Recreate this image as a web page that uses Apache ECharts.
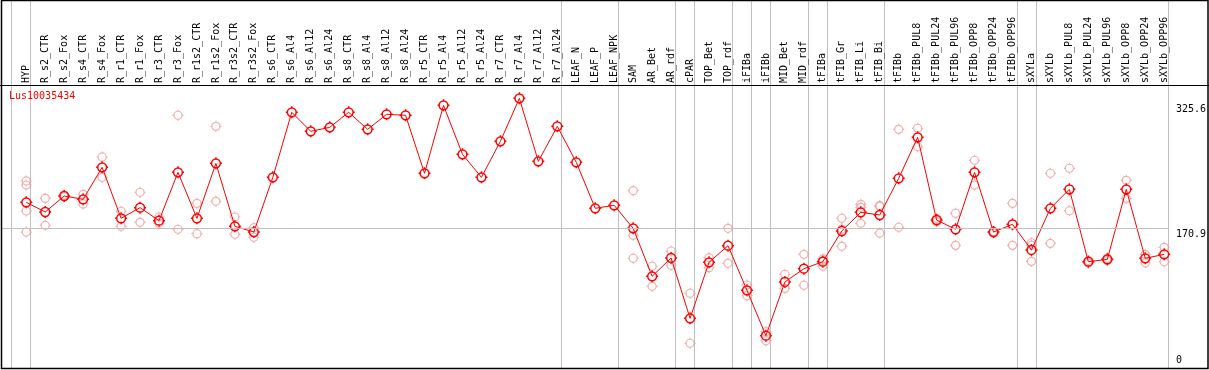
<!DOCTYPE html>
<html><head><meta charset="utf-8">
<script src="https://cdn.jsdelivr.net/npm/echarts@6/dist/echarts.min.js"></script>
<style>html,body{margin:0;padding:0;background:#fff}#c{width:1209px;height:370px}</style>
</head><body><div id="c"></div><script>
const geneName = 'Lus10035434';
const categories = ['HYP','R_s2_CTR','R_s2_Fox','R_s4_CTR','R_s4_Fox','R_r1_CTR','R_r1_Fox','R_r3_CTR','R_r3_Fox','R_r1s2_CTR','R_r1s2_Fox','R_r3s2_CTR','R_r3s2_Fox','R_s6_CTR','R_s6_Al4','R_s6_Al12','R_s6_Al24','R_s8_CTR','R_s8_Al4','R_s8_Al12','R_s8_Al24','R_r5_CTR','R_r5_Al4','R_r5_Al12','R_r5_Al24','R_r7_CTR','R_r7_Al4','R_r7_Al12','R_r7_Al24','LEAF_N','LEAF_P','LEAF_NPK','SAM','AR_Bet','AR_rdf','cPAR','TOP_Bet','TOP_rdf','iFIBa','iFIBb','MID_Bet','MID_rdf','tFIBa','tFIB_Gr','tFIB_Li','tFIB_Bi','tFIBb','tFIBb_PUL8','tFIBb_PUL24','tFIBb_PUL96','tFIBb_OPP8','tFIBb_OPP24','tFIBb_OPP96','sXYLa','sXYLb','sXYLb_PUL8','sXYLb_PUL24','sXYLb_PUL96','sXYLb_OPP8','sXYLb_OPP24','sXYLb_OPP96'];
const meanValues = [203.1,191.1,210.9,206.8,246.4,183.3,196.5,180.4,240.2,183.3,251.3,173.4,166.3,
  234.0,314.5,290.9,295.9,314.5,293.4,312.0,310.8,239.0,323.1,262.5,234.0,278.6,331.8,253.8,297.1,
  252.6,195.7,199.4,
  170.9,111.5,134.2,59.5,128.8,149.4,94.2,38.0,104.5,120.9,129.6,
  167.6,190.7,187.4,232.8,283.5,181.2,169.7,240.2,166.3,175.9,
  144.1,195.7,219.2,129.6,132.5,219.2,133.8,138.7];
const replicateValues = [
  [229.5,224.5,192.3,166.3],[208.0,174.6],[212,210],[213,201],[259.2,234.0],[192.0,173.4],[215.5,178.3],[184.9,177.1],[310.8,169.7],[201.8,164.3],[297.1,204.3],[184.9,163.5],[171.7,159.8],
  [],[],[],[],[],[],[],[],[],[],[],[],[],[],[],[],
  [],[],[],
  [217.5,162.3,133.8],[123.9,99.1],[142.8,125.1],[90.5,28.6],[134.6,122.2],[170.9,127.6],[100.7,87.5],[42.9,31.8],[114.0,96.6],[138.7,100.4],[133,131,124],
  [183.3,170.0,148.6],[200.6,196.9,177.1],[199,198,165],[293.4,172.2],[294.7,271.9],[183.3,179.1],[189.5,149.8],[255.1,224.5],[167,165],[201.8,149.8],
  [153,150,130],[239.0,152.3],[245.2,192.7],[131,128],[134,131],[230.3,208.0],[138.7,128.3],[147.4,129.6]
];
const groupEndsAfter = [-1,0,28,31,34,35,37,38,39,41,42,45,52,53,60];
const yLabelValues = [0, 170.9, 325.6];
const gridLineValue = 170.9;

const font = '"DejaVu Sans Mono", monospace';
const chart = echarts.init(document.getElementById('c'), null, {renderer: 'canvas'});
const repData = [];
replicateValues.forEach((arr, i) => arr.forEach(v => repData.push([i, v])));
const sym = 'path://M6 0V1.6M6 10.4V12M0 6H1.6M10.4 6H12' +
  'M10.4 6C10.4 8.43 8.43 10.4 6 10.4C3.57 10.4 1.6 8.43 1.6 6C1.6 3.57 3.57 1.6 6 1.6C8.43 1.6 10.4 3.57 10.4 6Z';

chart.setOption({
  animation: false,
  backgroundColor: '#fff',
  title: {text: geneName, left: 9, top: 91, padding: 0,
    textStyle: {color: '#ff0000', fontFamily: font, fontSize: 10, fontWeight: 'normal'}},
  grid: {left: 2, right: 38, top: 85, bottom: 3.6},
  xAxis: {type: 'value', position: 'top', min: -1.279, max: 60.247,
    axisLine: {show: false}, axisTick: {show: false}, splitLine: {show: false},
    axisLabel: {customValues: categories.map((_, i) => i), formatter: v => categories[Math.round(v)] || '',
      rotate: 90, margin: 2, fontFamily: font, fontSize: 10, color: '#000'}},
  yAxis: {type: 'value', position: 'right', min: 0, max: 348.3,
    axisLine: {show: false}, axisTick: {show: false}, splitLine: {show: false},
    axisLabel: {customValues: yLabelValues, margin: 7, verticalAlign: 'middle',
      formatter: v => v === 0 ? '{b|0}' : '{t|' + v + '}',
      rich: {t: {padding: [12, 0, 0, 0], fontFamily: font, fontSize: 10, color: '#000'},
             b: {padding: [0, 0, 12, 0], fontFamily: font, fontSize: 10, color: '#000'}},
      fontFamily: font, fontSize: 10, color: '#000'}},
  series: [
    {type: 'line', data: [], z: 1,
      markLine: {silent: true, symbol: 'none', label: {show: false}, animation: false,
        lineStyle: {color: '#c0c0c0', type: 'solid', width: 1}, data: [{yAxis: gridLineValue}]}},
    {type: 'scatter', data: repData, symbol: sym, symbolSize: 11, z: 2,
      itemStyle: {color: 'rgba(0,0,0,0)', borderColor: '#f09a9a', borderWidth: 1.2}},
    {type: 'line', data: meanValues.map((v, i) => [i, v]), symbol: sym, symbolSize: 12, z: 3,
      lineStyle: {color: '#ff0000', width: 1},
      itemStyle: {color: 'rgba(0,0,0,0)', borderColor: '#ff0000', borderWidth: 1.5}}
  ]
});

const gfx = groupEndsAfter.map(b => {
  const x = Math.round(chart.convertToPixel({xAxisIndex: 0}, b + 0.22)) + 0.5;
  return {type: 'line', silent: true, z: 0, shape: {x1: x, y1: 0, x2: x, y2: 369},
    style: {stroke: '#c0c0c0', lineWidth: 1}};
});
gfx.push({type: 'line', silent: true, z: 10, shape: {x1: 0, y1: 85.5, x2: 1209, y2: 85.5}, style: {stroke: '#000', lineWidth: 1}});
gfx.push({type: 'rect', silent: true, z: 10, shape: {x: 1.5, y: 0.5, width: 1206.5, height: 368}, style: {stroke: '#000', fill: null, lineWidth: 1.5}});
chart.setOption({graphic: gfx});
</script></body></html>
